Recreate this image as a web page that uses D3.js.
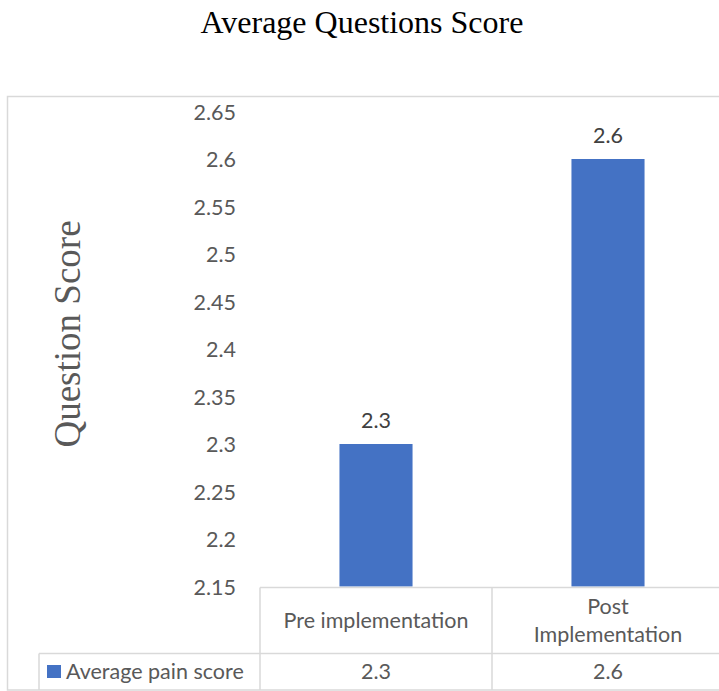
<!DOCTYPE html>
<html><head><meta charset="utf-8">
<script src="https://cdn.jsdelivr.net/npm/d3@7"></script>
<style>body{margin:0;background:#fff}svg{display:block}</style>
</head><body>
<svg id="c" width="719" height="691"></svg>
<script>
const categories = ["Pre implementation", "Post\nImplementation"];
const seriesName = "Average pain score";
const values = [2.3, 2.6];
const tickValues = [2.15, 2.2, 2.25, 2.3, 2.35, 2.4, 2.45, 2.5, 2.55, 2.6, 2.65];
const titleText = "Average Questions Score";
const yTitle = "Question Score";

const svg = d3.select("#c");
const barColor = "#4472C4", gridC = "#d9d9d9", textC = "#595959";
const font = "Lato, 'Open Sans', sans-serif";
const fs = 21.5;

// outer border
svg.append("rect").attr("x",7.5).attr("y",96.5).attr("width",760).attr("height",593.5)
  .attr("fill","none").attr("stroke",gridC).attr("stroke-width",1.5);

svg.append("text").attr("x",362).attr("y",33).attr("text-anchor","middle")
  .attr("font-family","'Liberation Serif','Times New Roman',serif").attr("font-size",32)
  .attr("fill","#000").text(titleText);

const x = d3.scaleBand().domain(categories).range([260, 724]).paddingInner(0).paddingOuter(0);
const y = d3.scaleLinear().domain([2.15, 2.65]).range([586.5, 111.5]);

// y axis labels
const ax = svg.append("g").attr("transform","translate(236,0)")
  .call(d3.axisLeft(y).tickValues(tickValues).tickSize(0).tickPadding(0).tickFormat(d3.format("")));
ax.select(".domain").remove();
ax.selectAll("text").attr("font-family",font).attr("font-size",fs).attr("fill",textC).attr("dy","0.35em");

// y title
svg.append("text").attr("transform","translate(80,334) rotate(-90)").attr("text-anchor","middle")
  .attr("font-family","'Liberation Serif','Times New Roman',serif").attr("font-size",37)
  .attr("fill",textC).text(yTitle);

// bars
const bw = x.bandwidth()*0.315;
svg.selectAll("rect.bar").data(values).join("rect").attr("class","bar")
  .attr("x",(d,i)=>x(categories[i])+x.bandwidth()/2-bw/2)
  .attr("width",bw)
  .attr("y",d=>y(d)).attr("height",d=>y(2.15)-y(d)).attr("fill",barColor);

// data labels
svg.selectAll("text.lbl").data(values).join("text").attr("class","lbl")
  .attr("x",(d,i)=>x(categories[i])+x.bandwidth()/2).attr("y",d=>y(d)-24)
  .attr("dy","0.35em")
  .attr("text-anchor","middle").attr("font-family",font).attr("font-size",fs).attr("fill","#404040")
  .text(d=>d);

// data table
const tTop = 587.5, tMid = 653.5, tBot = 690;
const g = svg.append("g").attr("stroke",gridC).attr("stroke-width",1.5);
g.append("line").attr("x1",x.range()[0]).attr("x2",724).attr("y1",tTop).attr("y2",tTop);
g.append("line").attr("x1",39).attr("x2",724).attr("y1",tMid).attr("y2",tMid);
g.append("line").attr("x1",39).attr("x2",39).attr("y1",tMid).attr("y2",tBot);
categories.forEach(c=>{
  g.append("line").attr("x1",x(c)).attr("x2",x(c)).attr("y1",tTop).attr("y2",tBot);
});
categories.forEach(c=>{
  const lines = c.split("\n");
  const t = svg.append("text").attr("text-anchor","middle").attr("font-family",font)
    .attr("font-size",fs).attr("fill",textC);
  const cy = (tTop+tMid)/2, lh = 28;
  lines.forEach((l,i)=>{
    t.append("tspan").attr("x",x(c)+x.bandwidth()/2)
     .attr("y",cy + (i-(lines.length-1)/2)*lh).attr("dy","0.35em").text(l);
  });
});
values.forEach((v,i)=>{
  svg.append("text").attr("x",x(categories[i])+x.bandwidth()/2).attr("y",(tMid+tBot)/2).attr("dy","0.35em")
   .attr("text-anchor","middle").attr("font-family",font).attr("font-size",fs).attr("fill",textC).text(v);
});
svg.append("rect").attr("x",47).attr("y",665).attr("width",14).attr("height",13).attr("fill",barColor);
svg.append("text").attr("x",66).attr("y",(tMid+tBot)/2).attr("dy","0.35em").attr("font-family",font)
  .attr("font-size",fs).attr("fill",textC).text(seriesName);
</script>
</body></html>
